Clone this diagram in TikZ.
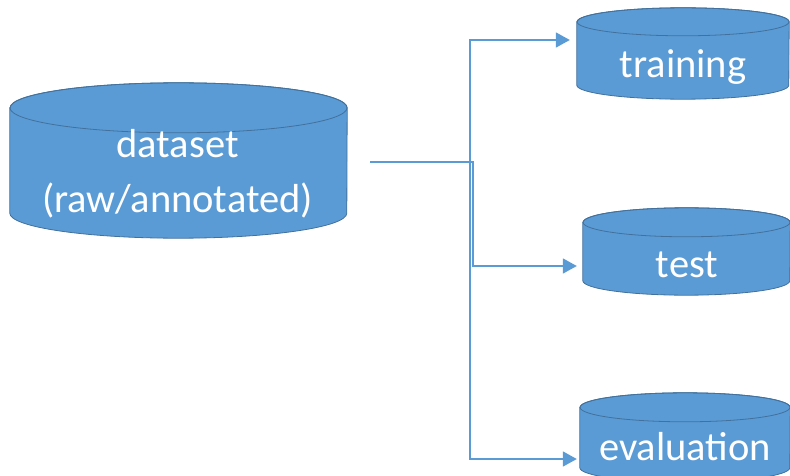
\documentclass[tikz,border=0pt]{standalone}
\usepackage{fontspec}
\setmainfont{Carlito}
\usetikzlibrary{arrows.meta,calc}
\definecolor{drumblue}{HTML}{5B9BD5}
\definecolor{drumedge}{HTML}{41719C}
\pgfdeclarelayer{background}
\pgfsetlayers{background,main}

% draws a database drum inside the rectangle of node #1; #2 = x radius, #3 = y radius of the lids
\newcommand\drum[3]{%
  \filldraw[drumshape]
    ([yshift=-#3]#1.north west) -- ([yshift=#3]#1.south west)
    arc[start angle=180,end angle=360,x radius=#2,y radius=#3]
    -- ([yshift=-#3]#1.north east)
    arc[start angle=0,end angle=180,x radius=#2,y radius=#3] -- cycle;
  \draw[drumshape,fill=none] ([yshift=-#3]#1.north) ellipse[x radius=#2,y radius=#3];
}

\tikzset{
  drumnode/.style={rectangle,inner sep=0pt,draw=none},
  drumshape/.style={fill=drumblue,draw=drumedge,line width=0.8pt},
  drumtext/.style={text=white,font=\fontsize{40.5}{55}\selectfont,inner sep=0pt,align=center},
  conn/.style={draw=drumblue,line width=1.8pt,-{Triangle[length=14pt,width=15pt]}}
}

\begin{document}
\begin{tikzpicture}[x=1pt,y=1pt]
  \useasboundingbox (0,0) rectangle (790,475);
  \clip (0,0) rectangle (790,475);

  % storage drums
  \node[drumnode,minimum width=337pt,minimum height=155pt] (data) at (178.5,314.5) {};
  \node[drumnode,minimum width=212pt,minimum height=91pt] (train) at (683,421.5) {};
  \node[drumnode,minimum width=207pt,minimum height=87pt] (test) at (686.5,223.5) {};
  \node[drumnode,minimum width=210pt,minimum height=89pt] (eval) at (685,37.5) {};

  \begin{pgfonlayer}{background}
    \drum{data}{168.5pt}{25pt}
    \drum{train}{106pt}{14pt}
    \drum{test}{103.5pt}{14.5pt}
    \drum{eval}{105pt}{14.5pt}
  \end{pgfonlayer}

  % labels
  \node[drumtext] (dataLbl) at (177.5,301) {dataset\\(raw/annotated)};
  \node[drumtext,anchor=base] (trainLbl) at (683,397) {training};
  \node[drumtext,anchor=base] (testLbl) at (687,198) {test};
  \node[drumtext,anchor=base] (evalLbl) at (685,15) {evaluation};

  % split connectors
  \coordinate (src) at ([xshift=23pt,yshift=-1.5pt]data.east);
  \draw[conn] (src) -- ++(100,0) |- ([xshift=-7pt,yshift=13.5pt]train.west);
  \draw[conn] (src) -- ++(100,0) |- ([xshift=-3pt,yshift=-21.5pt]eval.west);
  \draw[conn] (src) -- ++(103,0) |- ([xshift=-6pt,yshift=-14.5pt]test.west);
\end{tikzpicture}
\end{document}
